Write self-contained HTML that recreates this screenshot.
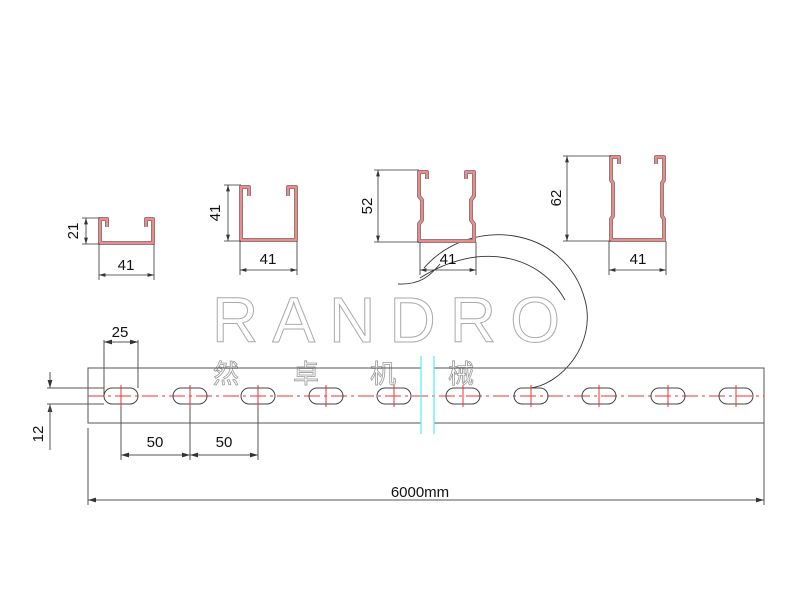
<!DOCTYPE html>
<html><head><meta charset="utf-8"><style>body{margin:0;background:#fff}svg{display:block}</style></head><body>
<svg width="800" height="600" viewBox="0 0 800 600" xmlns="http://www.w3.org/2000/svg" font-family="Liberation Sans, Arial, sans-serif">
<defs>
<marker id="a" viewBox="0 0 10 6" refX="10" refY="3" markerWidth="8" markerHeight="5" orient="auto-start-reverse"><path d="M0,0L10,3L0,6z" fill="#333"/></marker>
</defs>
<text x="212" y="342" font-size="64" fill="#fff" stroke="#aaa" stroke-width="1" textLength="348" lengthAdjust="spacing">RANDRO</text>
<g font-family="Liberation Sans, Noto Sans CJK SC, sans-serif" font-size="26" fill="#fff" stroke="#999" stroke-width="0.8">
<text x="213" y="383">然</text><text x="293" y="383">卓</text><text x="370" y="383">机</text><text x="448" y="383">械</text>
</g>
<path d="M424,268 C470,215 565,225 585,300 C597,345 560,385 530,388" fill="none" stroke="#333" stroke-width="0.9"/>
<path d="M420,278 C480,240 540,255 565,300" fill="none" stroke="#333" stroke-width="0.9"/>
<path d="M398,284 C420,285 430,276 440,264" fill="none" stroke="#333" stroke-width="0.9"/>

<g fill="none" stroke-linejoin="round">
<g stroke="#777" stroke-width="4">
<path d="M107,227 L107,219 L100,219 L100,243 L153,243 L153,219 L146,219 L146,227"/>
<path d="M249,196 L249,187 L241,187 L241,240 L296,240 L296,187 L288,187 L288,196"/>
<path d="M427,179 L427,172 L419,172 L419,196 L422,200 L422,220 L419,224 L419,241 L474,241 L474,224 L471,220 L471,200 L474,196 L474,172 L466,172 L466,179"/>
<path d="M619,164 L619,157 L611,157 L611,180 L613,183 L613,216 L611,219 L611,240 L664,240 L664,219 L662,216 L662,183 L664,180 L664,157 L656,157 L656,164"/>
</g>
<g stroke="#f08a8a" stroke-width="2.4">
<path d="M107,227 L107,219 L100,219 L100,243 L153,243 L153,219 L146,219 L146,227"/>
<path d="M249,196 L249,187 L241,187 L241,240 L296,240 L296,187 L288,187 L288,196"/>
<path d="M427,179 L427,172 L419,172 L419,196 L422,200 L422,220 L419,224 L419,241 L474,241 L474,224 L471,220 L471,200 L474,196 L474,172 L466,172 L466,179"/>
<path d="M619,164 L619,157 L611,157 L611,180 L613,183 L613,216 L611,219 L611,240 L664,240 L664,219 L662,216 L662,183 L664,180 L664,157 L656,157 L656,164"/>
</g>
</g>
<g stroke="#333" stroke-width="0.8" fill="none">
<path d="M82,218H100 M82,244H100"/><line x1="86" y1="218" x2="86" y2="244" marker-start="url(#a)" marker-end="url(#a)"/>
<path d="M99,244V280 M154,244V280"/><line x1="99" y1="275" x2="154" y2="275" marker-start="url(#a)" marker-end="url(#a)"/>
<path d="M224,185H241 M224,241H241"/><line x1="228" y1="185" x2="228" y2="241" marker-start="url(#a)" marker-end="url(#a)"/>
<path d="M240,241V275 M297,241V275"/><line x1="240" y1="270" x2="297" y2="270" marker-start="url(#a)" marker-end="url(#a)"/>
<path d="M374,170H419 M374,242H419"/><line x1="378" y1="170" x2="378" y2="242" marker-start="url(#a)" marker-end="url(#a)"/>
<path d="M420,242V275 M476,242V275"/><line x1="420" y1="270" x2="476" y2="270" marker-start="url(#a)" marker-end="url(#a)"/>
<path d="M563,156H611 M563,241H611"/><line x1="567" y1="156" x2="567" y2="241" marker-start="url(#a)" marker-end="url(#a)"/>
<path d="M609,241V275 M666,241V275"/><line x1="609" y1="270" x2="666" y2="270" marker-start="url(#a)" marker-end="url(#a)"/>
</g>
<g font-size="15" fill="#111" text-anchor="middle">
<text x="126" y="270">41</text><text x="268" y="264">41</text><text x="448" y="264">41</text><text x="638" y="264">41</text>
<text transform="translate(78,231) rotate(-90)">21</text>
<text transform="translate(220,213) rotate(-90)">41</text>
<text transform="translate(372,206) rotate(-90)">52</text>
<text transform="translate(561,198) rotate(-90)">62</text>
<text x="120" y="337">25</text><text x="155" y="447">50</text><text x="224" y="447">50</text>
<text transform="translate(43,434) rotate(-90)">12</text>
<text x="420" y="497">6000mm</text>
</g>
<g stroke="#555" stroke-width="1" fill="none">
<path d="M421,368H88V423H421 M434,368H764V423H434"/>
<line x1="88" y1="428" x2="88" y2="505"/><line x1="764" y1="423" x2="764" y2="505"/>
<line x1="88" y1="500" x2="764" y2="500" marker-start="url(#a)" marker-end="url(#a)"/>
<path d="M104,340V396 M138,340V388"/><line x1="104" y1="342" x2="138" y2="342" marker-start="url(#a)" marker-end="url(#a)"/>
<path d="M121,396V460 M190,396V460 M258,396V460"/>
<line x1="121" y1="455" x2="190" y2="455" marker-start="url(#a)" marker-end="url(#a)"/>
<line x1="190" y1="455" x2="258" y2="455" marker-start="url(#a)" marker-end="url(#a)"/>
<path d="M47,388H104 M47,404H104"/>
<line x1="50" y1="372" x2="50" y2="388" marker-end="url(#a)"/>
<line x1="50" y1="420" x2="50" y2="404" marker-end="url(#a)"/>
<line x1="50" y1="404" x2="50" y2="450"/>
</g>
<line x1="88" y1="396" x2="764" y2="396" stroke="#e33" stroke-width="1" stroke-dasharray="16,4,3,4"/>
<g stroke="#444" stroke-width="1" fill="none">
<rect x="104" y="388" width="34" height="16" rx="8"/>
<rect x="173" y="388" width="34" height="16" rx="8"/>
<rect x="241" y="388" width="34" height="16" rx="8"/>
<rect x="309" y="388" width="34" height="16" rx="8"/>
<rect x="377" y="388" width="34" height="16" rx="8"/>
<rect x="446" y="388" width="34" height="16" rx="8"/>
<rect x="514" y="388" width="34" height="16" rx="8"/>
<rect x="582" y="388" width="34" height="16" rx="8"/>
<rect x="651" y="388" width="34" height="16" rx="8"/>
<rect x="719" y="388" width="34" height="16" rx="8"/>
</g>
<g stroke="#e33" stroke-width="1">
<path d="M121,385V407 M190,385V407 M258,385V407 M326,385V407 M394,385V407 M463,385V407 M531,385V407 M599,385V407 M668,385V407 M736,385V407"/>
</g>
<g stroke="#5ee" stroke-width="1.2"><line x1="421" y1="356" x2="421" y2="434"/><line x1="434" y1="356" x2="434" y2="434"/></g>
</svg>
</body></html>
